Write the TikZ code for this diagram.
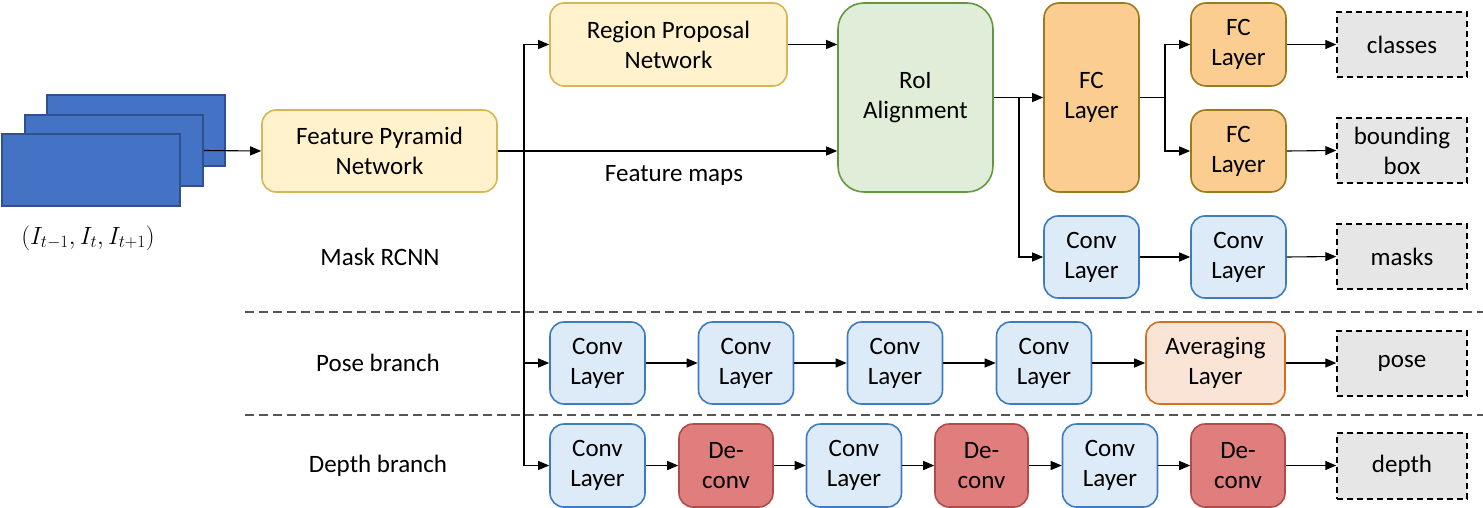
\documentclass[tikz,border=0pt]{standalone}
\usepackage{fontspec}
\setmainfont{Carlito}
\usetikzlibrary{arrows.meta}
\definecolor{imgfill}{HTML}{4472C4}
\definecolor{imgdraw}{HTML}{2F528F}
\definecolor{yfill}{HTML}{FFF2CC}
\definecolor{ydraw}{HTML}{D6B656}
\definecolor{gfill}{HTML}{E0EDD8}
\definecolor{gdraw}{HTML}{62993F}
\definecolor{ofill}{HTML}{FBCD90}
\definecolor{odraw}{HTML}{9C7A1E}
\definecolor{bfill}{HTML}{DDEAF7}
\definecolor{bdraw}{HTML}{3C7DC2}
\definecolor{afill}{HTML}{FAE4D6}
\definecolor{adraw}{HTML}{D4701E}
\definecolor{rfill}{HTML}{E07E7E}
\definecolor{rdraw}{HTML}{B04C4C}
\definecolor{dfill}{HTML}{E6E6E6}
\definecolor{sepgray}{HTML}{555555}
\tikzset{
  base/.style={rectangle, line width=1.6pt, align=center, font=\fontsize{25}{30}\selectfont, inner sep=0pt},
  imgbox/.style={rectangle, fill=imgfill, draw=imgdraw, line width=1.5pt},
  ybox/.style={base, fill=yfill, draw=ydraw, rounded corners=14pt},
  gbox/.style={base, fill=gfill, draw=gdraw, rounded corners=26pt},
  obox/.style={base, fill=ofill, draw=odraw, rounded corners=15pt},
  bbox/.style={base, fill=bfill, draw=bdraw, rounded corners=14pt, minimum width=95pt, minimum height=82pt},
  abox/.style={base, fill=afill, draw=adraw, rounded corners=14pt},
  rbox/.style={base, fill=rfill, draw=rdraw, rounded corners=14pt, minimum width=94pt, minimum height=83pt},
  outbox/.style={base, fill=dfill, draw=black, line width=1.4pt, dash pattern=on 6pt off 4pt, minimum width=130pt, minimum height=65pt},
  lbl/.style={font=\fontsize{25}{30}\selectfont, inner sep=0pt},
  arr/.style={line width=1.1pt, -{Triangle[length=11pt,width=9pt]}},
  ln/.style={line width=1.1pt},
  sep/.style={draw=sepgray, line width=1.1pt, dash pattern=on 9pt off 5pt}
}
\begin{document}
\begin{tikzpicture}[x=1pt,y=-1pt]
\useasboundingbox (0,0) rectangle (1483,508);
% input images
\node[imgbox, minimum width=178pt, minimum height=71pt] (img3) at (136,130.5) {};
\node[imgbox, minimum width=178pt, minimum height=71pt] (img2) at (114,150.5) {};
\node[imgbox, minimum width=178pt, minimum height=72pt] (img1) at (91,170) {};
\node[font=\fontsize{26}{30}\selectfont, inner sep=0pt] (inlbl) at (88,238) {$(I_{t-1}, I_t, I_{t+1})$};
% main nodes
\node[ybox, minimum width=235pt, minimum height=82pt] (fpn) at (379.5,151) {Feature Pyramid\\Network};
\node[ybox, minimum width=237pt, minimum height=83pt] (rpn) at (668.5,44.5) {Region Proposal\\Network};
\node[gbox, minimum width=155pt, minimum height=189pt] (roi) at (915.5,97.5) {RoI\\Alignment};
\node[obox, minimum width=95pt, minimum height=189pt] (fc) at (1091.5,97.5) {FC\\Layer};
\node[obox, minimum width=95pt, minimum height=83pt] (fc1) at (1238.5,44.5) {FC\\Layer};
\node[obox, minimum width=95pt, minimum height=82pt] (fc2) at (1238.5,151) {FC\\Layer};
\node[outbox] (classes) at (1402,44.5) {classes};
\node[outbox] (bbx) at (1402,150.5) {bounding\\box};
\node[outbox] (masks) at (1402,256.5) {masks};
\node[bbox] (mc1) at (1091.5,257) {Conv\\Layer};
\node[bbox] (mc2) at (1238.5,257) {Conv\\Layer};
% pose row
\node[bbox] (pc1) at (597.5,363) {Conv\\Layer};
\node[bbox] (pc2) at (746,363) {Conv\\Layer};
\node[bbox] (pc3) at (895,363) {Conv\\Layer};
\node[bbox] (pc4) at (1044,363) {Conv\\Layer};
\node[abox, minimum width=139pt, minimum height=82pt] (avg) at (1215.5,363) {Averaging\\Layer};
\node[outbox] (pose) at (1402,363.5) {pose};
% depth row
\node[bbox, minimum height=83pt] (dc1) at (597.5,465.5) {Conv\\Layer};
\node[rbox] (dd1) at (726,465.5) {De-\\conv};
\node[bbox, minimum height=83pt] (dc2) at (854,465.5) {Conv\\Layer};
\node[rbox, minimum width=93pt] (dd2) at (981.5,465.5) {De-\\conv};
\node[bbox, minimum height=83pt] (dc3) at (1110,465.5) {Conv\\Layer};
\node[rbox] (dd3) at (1238,465.5) {De-\\conv};
\node[outbox, minimum height=66pt] (depth) at (1402,466) {depth};
% labels
\node[lbl] (fmlbl) at (674,175) {Feature maps};
\node[lbl] (mrlbl) at (380,257) {Mask RCNN};
\node[lbl] (pblbl) at (378,363) {Pose branch};
\node[lbl] (dblbl) at (378,466) {Depth branch};
% separators
\coordinate (s1a) at (245,312);
\coordinate (s1b) at (1483,312);
\coordinate (s2a) at (245,415);
\coordinate (s2b) at (1483,415);
\draw[sep] (s1a) -- (s1b);
\draw[sep] (s2a) -- (s2b);
% connectors
\draw[arr] (img2.east) -- (fpn.west);
\draw[arr] (fpn.east) -- (fpn.east -| roi.west);
\coordinate (split) at (524,151);
\draw[arr] (split) |- (rpn.west);
\draw[arr] (split) |- (pc1.west);
\draw[arr] (split) |- (dc1.west);
\draw[arr] (rpn.east) -- (rpn.east -| roi.west);
\draw[arr] (roi.east) -- (fc.west);
\coordinate (b2) at (1019,97.5);
\draw[arr] (b2) |- (mc1.west);
\coordinate (b3) at (1165,97.5);
\draw[ln] (fc.east) -- (b3);
\draw[arr] (b3) |- (fc1.west);
\draw[arr] (b3) |- (fc2.west);
\draw[arr] (fc1.east) -- (classes.west);
\draw[arr] (fc2.east) -- (bbx.west);
\draw[arr] (mc1.east) -- (mc2.west);
\draw[arr] (mc2.east) -- (masks.west);
\draw[arr] (pc1.east) -- (pc2.west);
\draw[arr] (pc2.east) -- (pc3.west);
\draw[arr] (pc3.east) -- (pc4.west);
\draw[arr] (pc4.east) -- (avg.west);
\draw[arr] (avg.east) -- (pose.west |- avg.east);
\draw[arr] (dc1.east) -- (dd1.west);
\draw[arr] (dd1.east) -- (dc2.west);
\draw[arr] (dc2.east) -- (dd2.west);
\draw[arr] (dd2.east) -- (dc3.west);
\draw[arr] (dc3.east) -- (dd3.west);
\draw[arr] (dd3.east) -- (depth.west |- dd3.east);
\end{tikzpicture}
\end{document}
